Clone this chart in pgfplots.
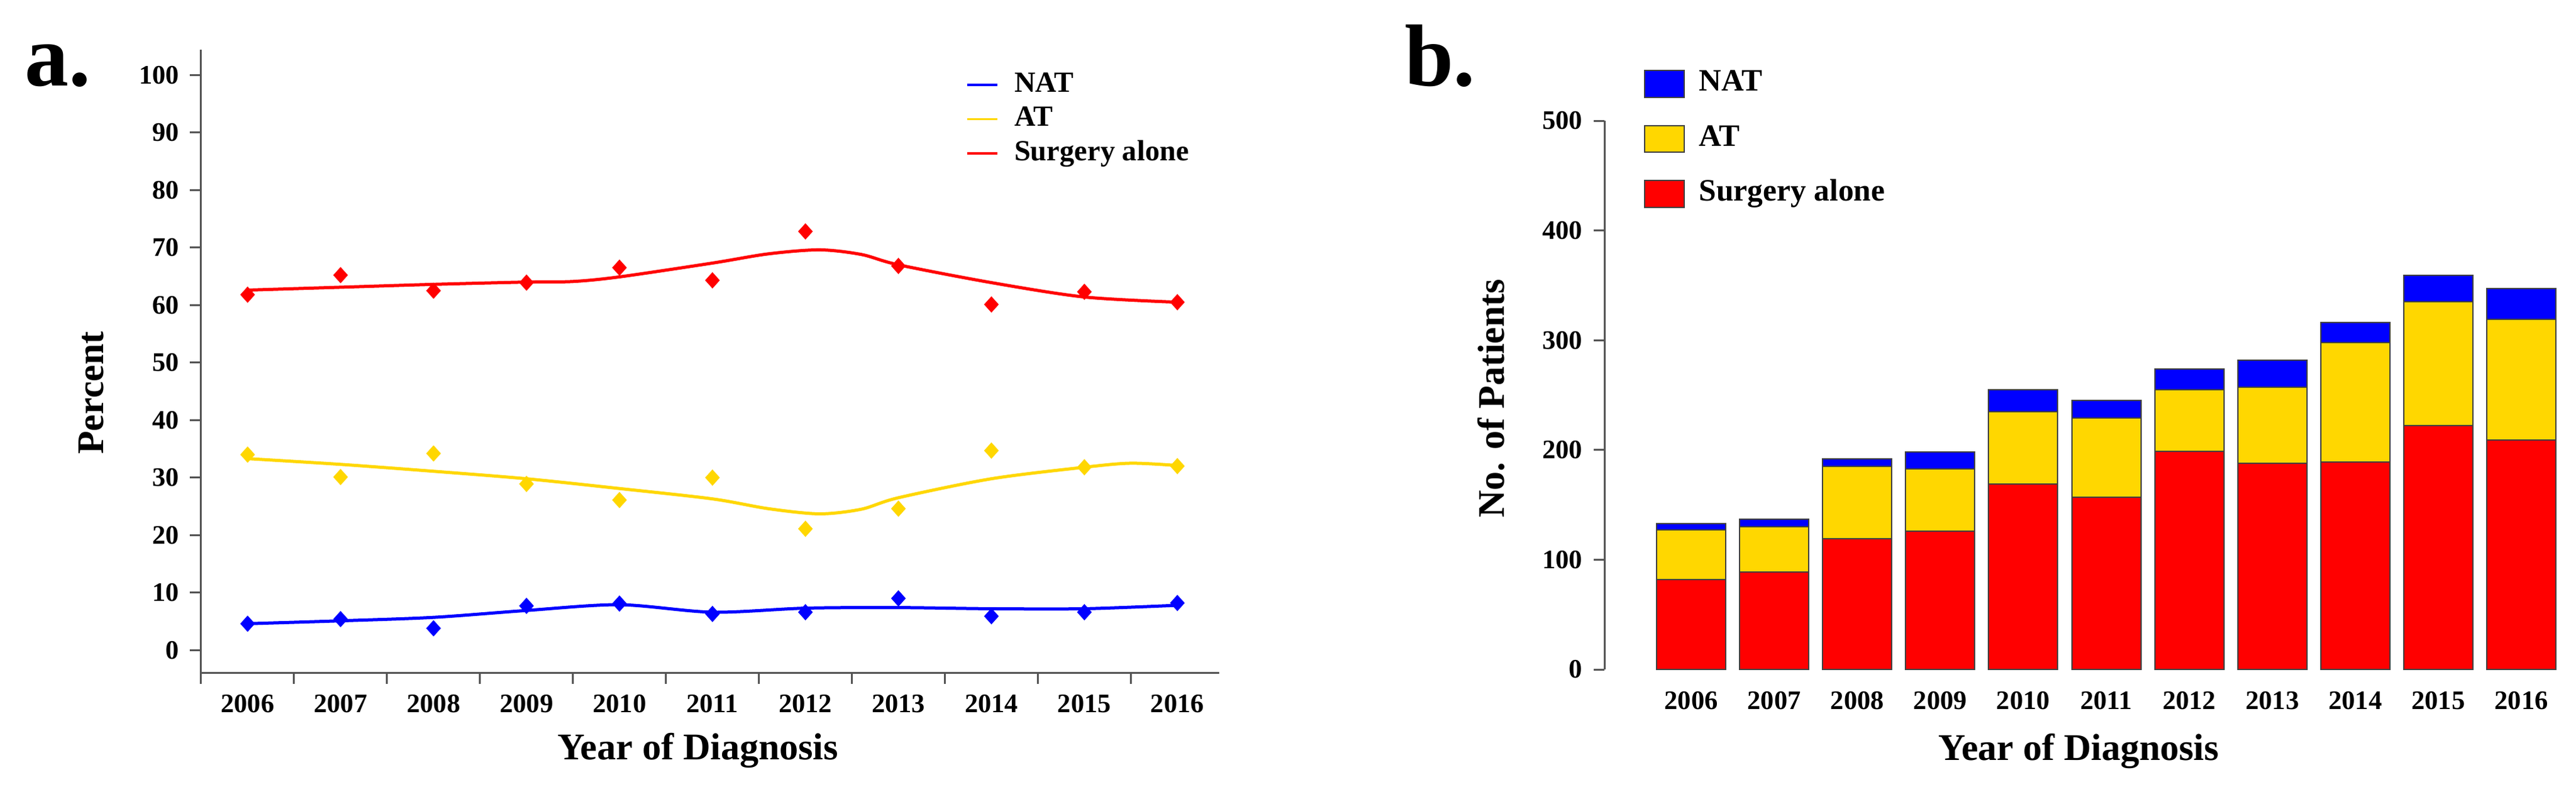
\documentclass[border=0pt]{standalone}
\usepackage{fontspec}
\setmainfont{Liberation Serif}
\usepackage{pgfplots}
\pgfplotsset{compat=1.18}

\definecolor{rred}{RGB}{255,0,0}
\definecolor{rgold}{RGB}{255,215,0}
\definecolor{rblue}{RGB}{0,0,255}
\definecolor{axgray}{RGB}{85,85,85}

\pgfplotsset{
  rstyle/.style={
    scale only axis,
    axis lines*=left,
    axis line style={axgray, line width=0.6pt, -},
    tick style={axgray, line width=0.6pt},
    tick align=outside,
    major tick length=3.5pt,
    minor tick length=3.5pt,
    tick label style={font=\bfseries\fontsize{8.5}{10}\selectfont},
    /pgf/number format/assume math mode=true,
    label style={font=\bfseries\fontsize{12}{14}\selectfont},
    xtick={0,...,10},
    xticklabels={2006,2007,2008,2009,2010,2011,2012,2013,2014,2015,2016},
    xlabel={Year of Diagnosis},
    clip=false,
  },
  dots/.style={only marks, mark=diamond*, mark size=2.3pt,
    mark options={xscale=1.2}, forget plot},
}

\begin{document}
\begin{tikzpicture}
\useasboundingbox (0,0) rectangle (819.8pt,250.2pt);

% ---- panel a: percentages ----
\begin{axis}[rstyle,
  at={(64pt,36.2pt)}, anchor=south west,
  width=324pt, height=198.2pt,
  xmin=-0.5, xmax=10.45, ymin=-3.9, ymax=104.4,
  major x tick style={draw=none},
  minor xtick={-0.5,0.5,...,9.5},
  ytick={0,10,...,100},
  ylabel={Percent},
  xlabel style={at={(axis description cs:0.488,0)}, anchor=center, yshift=-24.8pt},
  ylabel style={at={(axis description cs:-0.108,0.449)}, anchor=center},
  legend style={at={(rel axis cs:0.751,0.971)}, anchor=north west,
    draw=none, fill=none, inner sep=0pt, row sep=0.4pt,
    font=\bfseries\fontsize{9.3}{10}\selectfont,
    nodes={inner sep=1pt, text height=6.5pt, text depth=2pt},
    /tikz/every odd column/.append style={column sep=4pt}},
  legend cell align=left,
  legend image code/.code={\draw[#1, line width=0.7pt] (0pt,0pt) -- (9.6pt,0pt);},
]
\addplot[rblue, line width=1pt, smooth] coordinates {
  (0,4.6) (1,5.1) (2,5.7) (3,6.9) (4,7.9) (5,6.6) (6,7.3) (7,7.4) (8,7.2) (9,7.2) (10,7.8)
};
\addlegendentry{NAT}
\addplot[rgold, line width=1pt, smooth] coordinates {
  (0,33.3) (1,32.3) (2,31.1) (3,29.8) (4,28.1) (5,26.3) (5.6,24.6) (6.15,23.7)
  (6.6,24.5) (7,26.5) (8,29.8) (9,31.8) (9.5,32.5) (10,32.1)
};
\addlegendentry{AT}
\addplot[rred, line width=1pt, smooth] coordinates {
  (0,62.6) (1,63.1) (2,63.6) (3,64.0) (3.5,64.1) (4,64.9) (5,67.3) (5.6,68.9)
  (6.15,69.6) (6.6,68.8) (7,67.0) (8,63.9) (9,61.4) (10,60.5)
};
\addlegendentry{Surgery alone}

\addplot[dots, color=rblue] coordinates {
  (0,4.6) (1,5.4) (2,3.8) (3,7.7) (4,8.1) (5,6.3) (6,6.6) (7,9.0) (8,5.9) (9,6.6) (10,8.2)
};
\addplot[dots, color=rgold] coordinates {
  (0,34.0) (1,30.1) (2,34.2) (3,28.9) (4,26.1) (5,30.0) (6,21.1) (7,24.6) (8,34.7) (9,31.8) (10,32.0)
};
\addplot[dots, color=rred] coordinates {
  (0,61.8) (1,65.2) (2,62.5) (3,63.9) (4,66.5) (5,64.3) (6,72.8) (7,66.8) (8,60.1) (9,62.3) (10,60.5)
};
\end{axis}

% ---- panel b: counts ----
\begin{axis}[rstyle,
  at={(510.6pt,37.2pt)}, anchor=south west,
  width=303.7pt, height=174.6pt,
  xmin=-1.045, xmax=10.45, ymin=0, ymax=500,
  ybar stacked, bar width=22pt,
  x axis line style={draw=none},
  xtick style={draw=none},
  ytick={0,100,...,500},
  ylabel={No. of Patients},
  xlabel style={at={(axis description cs:0.497,0)}, anchor=center, yshift=-26pt},
  ylabel style={at={(axis description cs:-0.119,0.494)}, anchor=center},
  legend style={at={(rel axis cs:0.041,1.101)}, anchor=north west,
    draw=none, fill=none, inner sep=0pt, row sep=6pt,
    font=\bfseries\fontsize{9.9}{11}\selectfont,
    nodes={inner sep=1pt, text height=7pt, text depth=2.5pt},
    /tikz/every odd column/.append style={column sep=3.5pt}},
  legend cell align=left,
  reverse legend,
  legend image code/.code={\draw[#1, draw=black!75, line width=0.4pt] (0pt,-4.25pt) rectangle (12.6pt,4.25pt);},
]
\addplot[fill=rred, draw=black!75, line width=0.4pt] coordinates {
  (0,82) (1,89) (2,119) (3,126) (4,169) (5,157) (6,199) (7,188) (8,189) (9,222) (10,209)
};
\addlegendentry{Surgery alone}
\addplot[fill=rgold, draw=black!75, line width=0.4pt] coordinates {
  (0,45) (1,41) (2,66) (3,57) (4,66) (5,72) (6,56) (7,69) (8,109) (9,113) (10,110)
};
\addlegendentry{AT}
\addplot[fill=rblue, draw=black!75, line width=0.4pt] coordinates {
  (0,6) (1,7) (2,7) (3,15) (4,20) (5,16) (6,19) (7,25) (8,18) (9,24) (10,28)
};
\addlegendentry{NAT}
\end{axis}

\node[anchor=base west, inner sep=0pt, font=\bfseries\fontsize{28}{30}\selectfont] at (7.8pt,223pt) {a.};
\node[anchor=base west, inner sep=0pt, font=\bfseries\fontsize{28}{30}\selectfont] at (446.8pt,223pt) {b.};
\end{tikzpicture}
\end{document}
